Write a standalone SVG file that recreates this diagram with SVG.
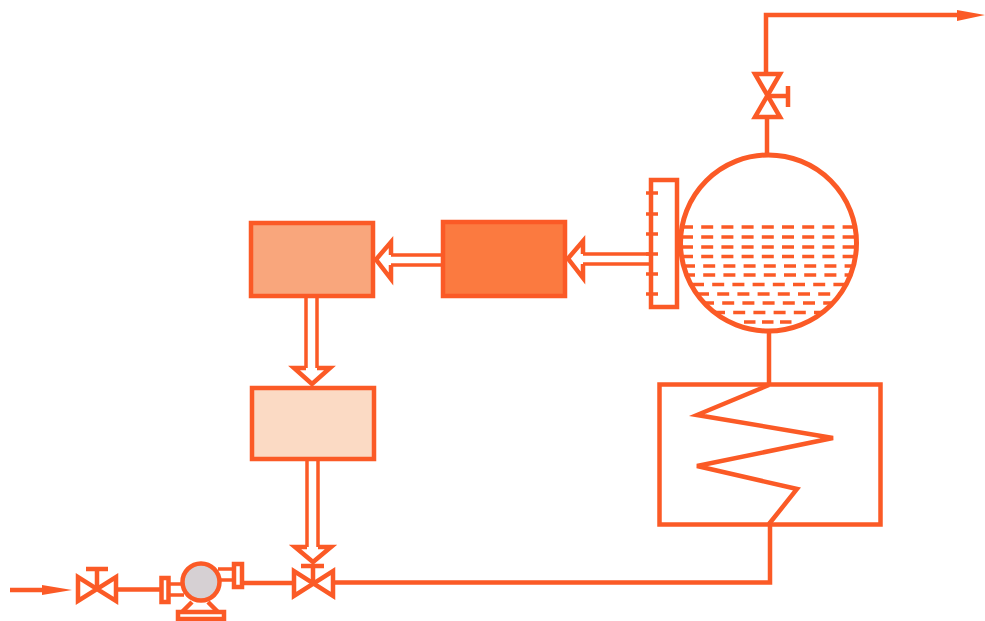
<svg xmlns="http://www.w3.org/2000/svg" width="985" height="621" viewBox="0 0 985 621">
<style>
.s{fill:none;stroke:#fb5a26;stroke-width:4.500}
.t{fill:none;stroke:#fb5a26;stroke-width:3.500}
.w{fill:#fff;stroke:#fb5a26;stroke-width:4.500}
.box{stroke:#fb5a26;stroke-width:4.500}
.d{fill:none;stroke:#fb5a26;stroke-width:3.500;stroke-dasharray:12 8.200}
.a{fill:#fb5a26}
</style>
<defs><clipPath id="liq"><circle cx="768.500" cy="243" r="87"/></clipPath></defs>
<rect width="985" height="621" fill="#fff"/>
<g id="connectors">
<path class="s" d="M10 590H50"/><path class="a" d="M42 585L72 590L42 595Z"/>
<path class="s" d="M117 589.500H162"/>
<path class="s" d="M243 583H293"/>
<path class="s" d="M334 582.500H770V523"/>
<path class="s" d="M769 332V384"/>
<path class="s" d="M767 154V118"/>
<path class="s" d="M766 74V15H962"/><path class="a" d="M957 10L985 15L957 21Z"/>
<path class="t" d="M442 255H391M442 265H391"/>
<path class="t" d="M650 254H583M650 264H583"/>
<path class="t" d="M306 297V368M317 297V368"/>
<path class="t" d="M307 459V547M318 459V547"/>
<path class="w" d="M391 265V279L376 259.500L391 242V255"/>
<path class="w" d="M583 264V278L568 258.500L583 241V254"/>
<path class="w" d="M306 368H294L312 384L330 368H317"/>
<path class="w" d="M307 547H295L313 562L331 547H318"/>
</g>
<g id="box-a"><rect class="box" x="251" y="223" width="122" height="73" fill="#f9a67c"/></g>
<g id="box-b"><rect class="box" x="443" y="222" width="122" height="74" fill="#fb7a40"/></g>
<g id="box-c"><rect class="box" x="252" y="388" width="122" height="71" fill="#fbdac4"/></g>
<g id="gauge">
<rect class="s" x="651" y="180" width="26" height="127" fill="#fff"/>
<path class="t" d="M646 193H658M646 214H658M646 234H658M646 254H658M646 274H658M646 294H658"/>
</g>
<g id="vessel">
<g clip-path="url(#liq)">
<line class="d" x1="681" x2="860" y1="227" y2="227"/>
<line class="d" x1="681" x2="860" y1="237" y2="237"/>
<line class="d" x1="681" x2="860" y1="247" y2="247"/>
<line class="d" x1="681" x2="860" y1="256.500" y2="256.500"/>
<line class="d" x1="683" x2="860" y1="266" y2="266"/>
<line class="d" x1="683" x2="860" y1="275" y2="275"/>
<line class="d" x1="692" x2="860" y1="284.500" y2="284.500"/>
<line class="d" x1="697" x2="860" y1="294" y2="294"/>
<line class="d" x1="702" x2="860" y1="303" y2="303"/>
<line class="d" x1="713" x2="860" y1="312.500" y2="312.500"/>
<line class="d" x1="744" x2="796" y1="322" y2="322" style="stroke-dasharray:11.500 6.500"/>
</g>
<circle class="s" cx="768.500" cy="243" r="88" style="stroke-width:5"/>
</g>
<g id="heater">
<rect class="s" x="659.500" y="384.500" width="221" height="140"/>
<path class="s" d="M769 385L697 415L833 438L697 466L797 489L769 524"/>
</g>
<g id="valve-top">
<path class="s" d="M755 74H780L755 117H780Z"/>
<path class="s" d="M767 96H788"/><path class="s" d="M788 86V107"/>
</g>
<g id="valve-inlet">
<path class="s" d="M78 577V601L116 577V601Z"/>
<path class="s" d="M97 589V569M86 569H108"/>
</g>
<g id="valve-mix">
<path class="s" d="M294 571V596L333 571V596Z"/>
<path class="s" d="M313 583V566M301 566H324"/>
</g>
<g id="pump">
<rect class="s" x="161.500" y="578" width="7" height="24"/>
<path class="t" d="M168 584H184M168 595H184"/>
<rect class="s" x="234" y="564" width="8" height="23"/>
<path class="t" d="M218 569H234M218 580H234"/>
<path class="s" d="M192 602L182 612M208 602L218 612"/>
<rect class="s" x="178" y="612" width="46" height="7"/>
<circle cx="201" cy="582" r="18.500" fill="#d6d0d3" stroke="#fb5a26" stroke-width="4.500"/>
</g>
</svg>
